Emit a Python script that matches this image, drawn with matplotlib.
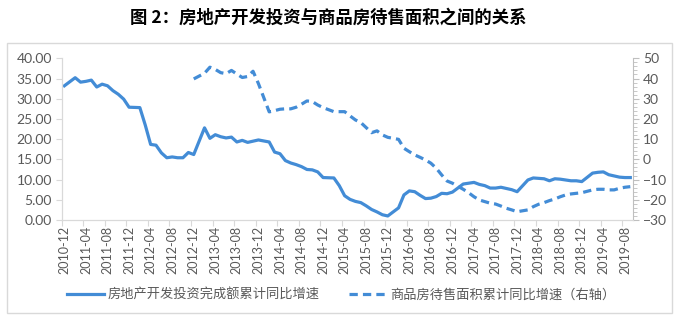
import numpy as np
import matplotlib
matplotlib.use('Agg')
import matplotlib.pyplot as plt
import matplotlib.patches as patches
from matplotlib.ticker import FormatStrFormatter, MultipleLocator

plt.rcParams['font.family'] = ['Noto Sans CJK SC', 'DejaVu Sans']

# 房地产开发投资完成额累计同比 (%), 2010-12 .. 2019-09, no January figure
invest = [33.2,
          35.2, 34.1, 34.3, 34.6, 32.9, 33.6, 33.2, 32.0, 31.1, 29.9, 27.9,
          27.8, 23.5, 18.7, 18.5, 16.6, 15.4, 15.6, 15.4, 15.4, 16.7, 16.2,
          22.8, 20.2, 21.1, 20.6, 20.3, 20.5, 19.3, 19.7, 19.2, 19.5, 19.8,
          19.3, 16.8, 16.4, 14.7, 14.1, 13.7, 13.2, 12.5, 12.4, 11.9, 10.5,
          10.4, 8.5, 6.0, 5.1, 4.6, 4.3, 3.5, 2.6, 2.0, 1.3, 1.0,
          3.0, 6.2, 7.2, 7.0, 6.1, 5.3, 5.4, 5.8, 6.6, 6.5, 6.9,
          8.9, 9.1, 9.3, 8.8, 8.5, 7.9, 7.9, 8.1, 7.8, 7.5, 7.0,
          9.9, 10.4, 10.3, 10.2, 9.7, 10.2, 10.1, 9.9, 9.7, 9.7, 9.5,
          11.6, 11.8, 11.9, 11.2, 10.9, 10.6, 10.5, 10.5]

# 商品房待售面积累计同比 (%), 2012-12 .. 2019-09, right axis
unsold = [39.8,
          42.6, 45.6, 44.5, 42.9, 42.4, 44.0, 42.2, 40.5, 41.0, 43.6, 37.5,
          23.5, 24.1, 24.8, 25.0, 25.0, 25.8, 27.3, 28.9, 28.6, 26.9, 25.6,
          23.6, 23.6, 23.6, 21.5, 19.5, 18.2, 15.7, 13.2, 14.1, 12.1, 10.9,
          9.9, 5.5, 3.8, 2.2, 1.0, -0.3, -1.9, -4.4, -7.7, -10.7, -11.8,
          -14.8, -16.5, -18.5, -20.1, -20.9, -21.7, -22.1, -23.1, -24.2, -25.0, -25.9,
          -25.0, -23.4, -22.2, -21.4, -20.4, -19.6, -18.5, -17.6, -17.1, -16.8, -16.5,
          -15.1, -14.8, -14.8, -15.1, -15.1, -14.3, -13.8, -13.5]


def months(start_year, last_year, last_month):
    # (year, month) from December of start_year, skipping January
    out = [(start_year, 12)]
    for y in range(start_year + 1, last_year + 1):
        end = last_month if y == last_year else 12
        out += [(y, m) for m in range(2, end + 1)]
    return out


def idx(ym):
    return (ym[0] - 2010) * 12 + ym[1] - 12


x_inv = np.array([idx(d) for d in months(2010, 2019, 9)]) + 0.5
x_uns = np.array([idx(d) for d in months(2012, 2019, 9)]) + 0.5

lab_idx = np.arange(0, 105, 4)
lab_txt = ['%d-%02d' % (2010 + (i + 11) // 12, (i + 11) % 12 + 1) for i in lab_idx]

blue = '#438CD6'
grey = '#595959'
light = '#D9D9D9'

fig = plt.figure(figsize=(6.8, 3.24), dpi=100)
ax = fig.add_axes([61.7 / 680, 1 - 220 / 324, (633 - 61.7) / 680, (220 - 58.3) / 324])
ax2 = ax.twinx()

ax.plot(x_inv, invest, color=blue, lw=2.3, solid_joinstyle='round',
        label='房地产开发投资完成额累计同比增速')
ax2.plot(x_uns, unsold, color=blue, lw=2.3, dashes=(2.6, 1.6),
         label='商品房待售面积累计同比增速（右轴）')

ax.set_xlim(0, 106)
ax.set_ylim(0, 40)
ax2.set_ylim(-30, 50)

ax.yaxis.set_major_locator(MultipleLocator(5))
ax.yaxis.set_major_formatter(FormatStrFormatter('%.2f'))
ax2.yaxis.set_major_locator(MultipleLocator(10))
ax2.yaxis.set_minor_locator(MultipleLocator(2))

ax.set_xticks(lab_idx)
ax.set_xticklabels([''] * len(lab_idx))
ax.set_xticks(lab_idx + 0.5, minor=True)
ax.set_xticklabels(lab_txt, minor=True, rotation=90, fontsize=9, color=grey,
                   family='Lato')
ax.tick_params(axis='x', which='major', length=4, color=light, direction='out')
ax.tick_params(axis='x', which='minor', length=0, pad=4)
ax.tick_params(axis='y', length=4, color=light, labelsize=10, labelcolor=grey, pad=3)
ax2.tick_params(axis='y', which='major', length=4, color='#BFBFBF', labelsize=10,
                labelcolor=grey, pad=3)
ax2.tick_params(axis='y', which='minor', length=3, color='#BFBFBF')
for t in ax.get_yticklabels() + ax2.get_yticklabels():
    t.set_family('Lato')

for a in (ax, ax2):
    a.spines['top'].set_visible(False)
    a.spines['left'].set_color(light)
    a.spines['bottom'].set_color(light)
    a.spines['right'].set_color('#BFBFBF')
ax.spines['right'].set_visible(False)

h1, l1 = ax.get_legend_handles_labels()
h2, l2 = ax2.get_legend_handles_labels()
leg = fig.legend(h1 + h2, l1 + l2, loc='center', bbox_to_anchor=(341 / 680, 1 - 295 / 324),
                 ncol=2, frameon=False, fontsize=9.5, handlelength=2.8,
                 handletextpad=0.3, columnspacing=2.2)
for t in leg.get_texts():
    t.set_color(grey)

fig.patches.append(patches.Rectangle((7 / 680, 1 - 313 / 324), 665 / 680, 270 / 324,
                                     transform=fig.transFigure, fill=False,
                                     edgecolor=light, lw=1))

fig.text(130 / 680, 1 - 18 / 324, '图 2：房地产开发投资与商品房待售面积之间的关系',
         ha='left', va='center', fontsize=12.5, fontweight='bold', color='black')

fig.savefig('out.png', dpi=100)
